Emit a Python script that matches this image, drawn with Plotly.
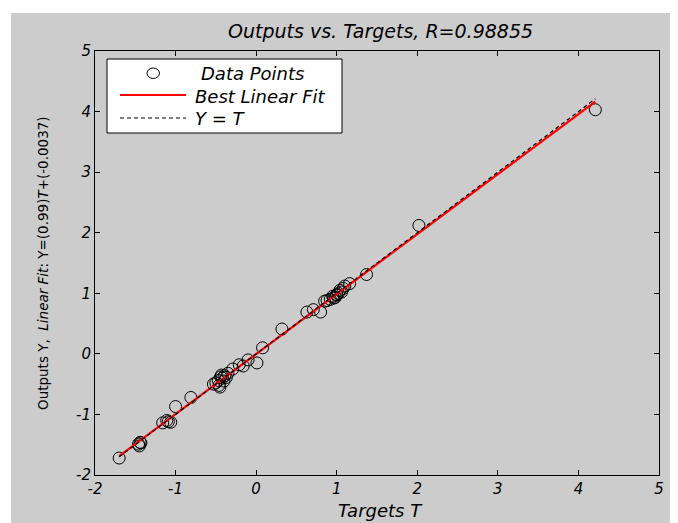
import plotly.graph_objects as go

# ---- data ----
targets = [-1.70, -1.46, -1.44, -1.45, -1.43, -1.16, -1.11, -1.06, -1.09, -1.00, -0.81,
           -0.53, -0.50, -0.47, -0.45, -0.44, -0.42, -0.40, -0.39, -0.46, -0.43, -0.37, -0.35,
           -0.29, -0.21, -0.16, -0.10, 0.01, 0.08,
           0.32, 0.63, 0.71, 0.80, 0.85, 0.88, 0.92, 0.95, 0.98, 1.00, 1.02, 1.04, 1.06,
           1.08, 1.10, 0.96, 1.00, 1.16, 1.37, 2.02, 4.21]
outputs = [-1.72, -1.49, -1.46, -1.52, -1.47, -1.14, -1.10, -1.13, -1.12, -0.87, -0.72,
           -0.50, -0.48, -0.44, -0.55, -0.38, -0.40, -0.45, -0.36, -0.52, -0.35, -0.39, -0.32,
           -0.25, -0.18, -0.20, -0.10, -0.15, 0.10,
           0.41, 0.69, 0.73, 0.69, 0.87, 0.88, 0.90, 0.95, 0.93, 0.98, 1.00, 1.05, 1.02,
           1.08, 1.12, 0.92, 0.97, 1.16, 1.31, 2.12, 4.03]
fit_slope = 0.99
fit_intercept = -0.0037
r_value = 0.98855
x_ticks = [-2, -1, 0, 1, 2, 3, 4, 5]
y_ticks = [-2, -1, 0, 1, 2, 3, 4, 5]

t_min, t_max = min(targets), max(targets)
fit_x = [t_min, t_max]
fit_y = [fit_slope * v + fit_intercept for v in fit_x]
id_x = [t_min, t_max]
id_y = [t_min, t_max]

FONT = "DejaVu Sans, sans-serif"

fig = go.Figure()
fig.add_trace(go.Scatter(x=targets, y=outputs, mode="markers", name="Data Points",
                         marker=dict(symbol="circle-open", size=12, color="black",
                                     line=dict(width=1, color="black")),
                         showlegend=False))
fig.add_trace(go.Scatter(x=fit_x, y=fit_y, mode="lines", name="Best Linear Fit",
                         line=dict(color="#ff0000", width=2.2), showlegend=False))
fig.add_trace(go.Scatter(x=id_x, y=id_y, mode="lines", name="Y = T",
                         line=dict(color="black", width=1.2, dash="4px,3px"), showlegend=False))

OFF = 8  # page body margin
W, H = 670, 515
L, R, T, B = 87, 19, 43, 48
pw, ph = W - L - R, H - T - B


def px(xs):
    return (xs - OFF - L) / pw


def py(ys):
    return (H - B - (ys - OFF)) / ph


shapes = [
    # grey figure background
    dict(type="rect", xref="paper", yref="paper", x0=px(11), x1=px(W + OFF + 5), y0=py(H + OFF + 5),
         y1=py(13), fillcolor="#cccccc", line=dict(width=0), layer="below"),
    # legend box
    dict(type="rect", xref="paper", yref="paper", x0=px(107), x1=px(342), y0=py(133), y1=py(59),
         fillcolor="white", line=dict(color="black", width=1), layer="above"),
    # legend symbols
    dict(type="circle", xref="paper", yref="paper", x0=px(147), x1=px(159.5), y0=py(78.5), y1=py(68),
         line=dict(color="black", width=1), layer="above"),
    dict(type="line", xref="paper", yref="paper", x0=px(120), x1=px(186), y0=py(95), y1=py(95),
         line=dict(color="#ff0000", width=2.2), layer="above"),
    dict(type="line", xref="paper", yref="paper", x0=px(120), x1=px(186), y0=py(118), y1=py(118),
         line=dict(color="black", width=1.2, dash="4px,3px"), layer="above"),
]

ann_font = dict(family=FONT, size=18, color="black", style="italic")
annotations = [
    dict(text="Data Points", xref="paper", yref="paper", x=px(199), y=py(73), xanchor="left",
         yanchor="middle", showarrow=False, font=ann_font),
    dict(text="Best Linear Fit", xref="paper", yref="paper", x=px(193), y=py(96), xanchor="left",
         yanchor="middle", showarrow=False, font=ann_font),
    dict(text="Y = T", xref="paper", yref="paper", x=px(193), y=py(118), xanchor="left",
         yanchor="middle", showarrow=False, font=ann_font),
    # axis titles / title
    dict(text=f"Outputs vs. Targets, R={r_value}", xref="paper", yref="paper", x=px(380), y=py(31),
         xanchor="center", yanchor="middle", showarrow=False,
         font=dict(family=FONT, size=19, color="black", style="italic")),
    dict(text="Targets T", xref="paper", yref="paper", x=px(380), y=py(510),
         xanchor="center", yanchor="middle", showarrow=False, font=ann_font),
    dict(text="Outputs Y,  <i>Linear Fit</i>: Y=(0.99)<i>T</i>+(-0.0037)", xref="paper", yref="paper",
         x=px(43), y=py(263), xanchor="center", yanchor="middle", textangle=-90, showarrow=False,
         font=dict(family=FONT, size=13.5, color="black")),
]

axis_common = dict(showgrid=False, zeroline=False, showline=True, linecolor="black", linewidth=1,
                   mirror="ticks", ticks="inside", ticklen=5, tickcolor="black", tickwidth=1,
                   tickfont=dict(family=FONT, size=15, color="black", style="italic"))

fig.update_layout(
    width=W, height=H,
    margin=dict(l=L, r=R, t=T, b=B, pad=0),
    paper_bgcolor="white", plot_bgcolor="white",
    xaxis=dict(range=[-2, 5], tickvals=x_ticks, ticktext=[str(v) for v in x_ticks], **axis_common),
    yaxis=dict(range=[-2, 5], tickvals=y_ticks, ticktext=[str(v) for v in y_ticks], **axis_common),
    shapes=shapes, annotations=annotations,
)

fig.write_html("out.html")
